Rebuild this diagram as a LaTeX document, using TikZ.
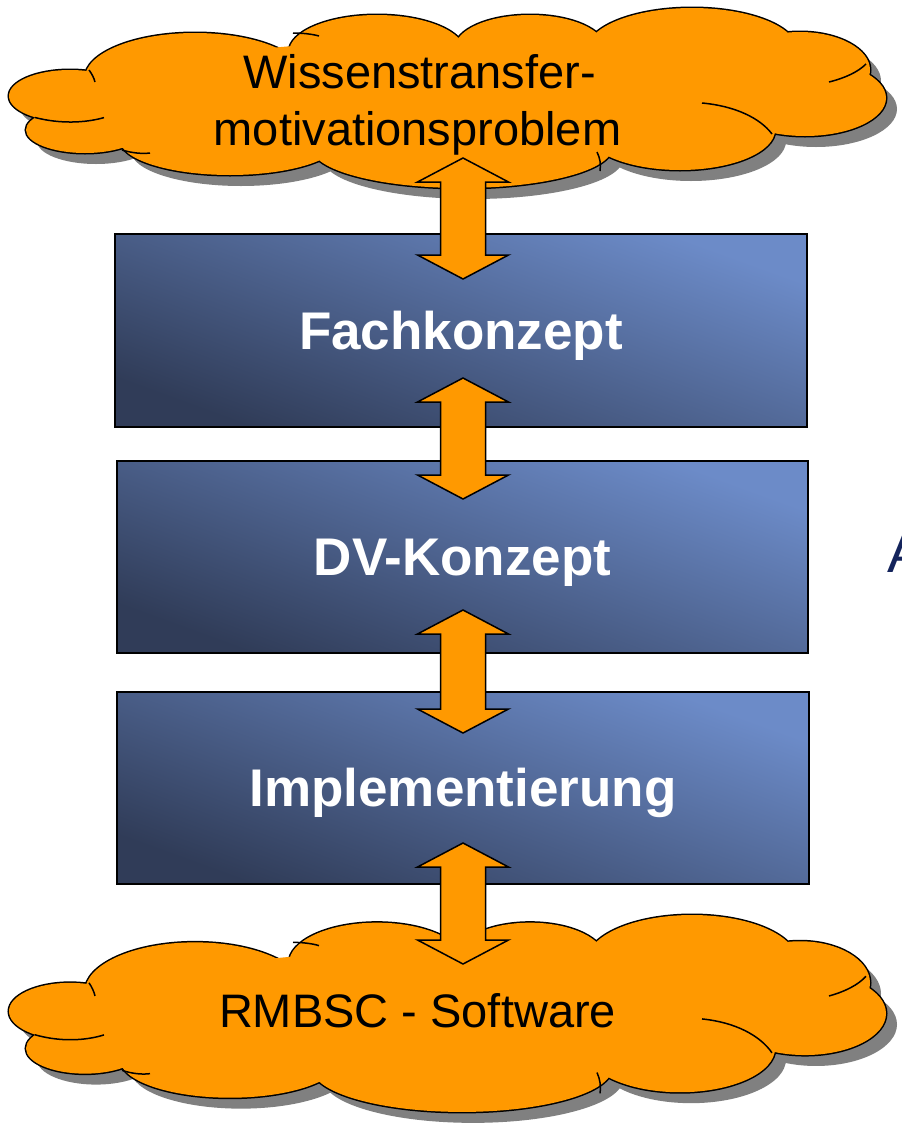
\documentclass[tikz,border=0pt]{standalone}
\usepackage{fontspec}
\setmainfont{Liberation Sans}
\usetikzlibrary{calc}
\definecolor{corange}{RGB}{255,153,0}
\definecolor{cshadow}{RGB}{128,128,128}
\definecolor{boxlight}{RGB}{108,139,200}
\definecolor{boxdark}{RGB}{48,60,88}
\definecolor{navy}{RGB}{20,36,92}

\newcommand\cloudlobes{%
 (70,96) ellipse [x radius=61, y radius=26]
 (85,130) ellipse [x radius=59, y radius=23]
 (230,140) ellipse [x radius=110, y radius=35]
 (462,148) ellipse [x radius=150, y radius=40]
 (680,130) ellipse [x radius=95, y radius=40]
 (805,98) ellipse [x radius=81, y radius=38]
 (800,70) ellipse [x radius=70, y radius=38]
 (692,50) ellipse [x radius=105, y radius=42]
 (530,48) ellipse [x radius=75, y radius=33]
 (377,52) ellipse [x radius=88, y radius=37]
 (195,78) ellipse [x radius=110, y radius=45]}
\newcommand\cloudfill{\cloudlobes (450,100) ellipse [x radius=360, y radius=60]}
\newcommand\cloudcreases{%
 (35,117.5) .. controls (60,124) and (85,123) .. (104,117.6)
 (89,70) .. controls (92,74) and (94,78) .. (95,82)
 (122,150) .. controls (132,153) and (142,154) .. (150,153)
 (600,171) .. controls (601,164) and (600,158) .. (597,152)
 (702,103) .. controls (735,106) and (760,118) .. (772,134)
 (829,82) .. controls (845,78) and (858,72) .. (866,64)
 (293,33) .. controls (302,33) and (312,34) .. (319,36)}

\tikzset{
 box/.style={draw=black, line width=1.5pt, inner sep=0pt,
  minimum width=692pt, minimum height=193pt,
  top color=boxlight, bottom color=boxdark, shading angle=-20,
  text=white, font=\fontsize{53}{60}\selectfont\bfseries,
  text height=37.9pt, text depth=0pt},
 blockarr/.style={fill=corange, draw=black, line width=1.5pt, line join=miter},
 cloudtext/.style={inner sep=0pt, text=black, font=\fontsize{47}{56}\selectfont},
 cloudline/.style={draw=black, line width=3pt},
 creaseline/.style={draw=black, line width=1.5pt}
}
\newcommand\dblarrow[2]{%
 \draw[blockarr] let \p1=(#1), \p2=(#2) in
 (\x1,\y1) -- (\x1+45.5pt,\y1-24pt) -- (\x1+22.5pt,\y1-24pt) -- (\x1+22.5pt,\y2+24pt)
 -- (\x1+45.5pt,\y2+24pt) -- (\x1,\y2) -- (\x1-45.5pt,\y2+24pt) -- (\x1-22.5pt,\y2+24pt)
 -- (\x1-22.5pt,\y1-24pt) -- (\x1-45.5pt,\y1-24pt) -- cycle;}

\begin{document}
\begin{tikzpicture}[x=1pt,y=-1pt]
\fill[white] (0,0) rectangle (902,1125);
\clip (0,0) rectangle (902,1125);

% top cloud
\begin{scope}[shift={(11,11)}]
 \fill[cshadow] \cloudfill;
\end{scope}
\path[cloudline] \cloudlobes;
\fill[corange] \cloudfill;
\path[creaseline] \cloudcreases;

% bottom cloud
\begin{scope}[yshift=-906.25pt, yscale=1.094]
 \begin{scope}[shift={(11,10)}]
  \fill[cshadow] \cloudfill;
 \end{scope}
 \path[cloudline] \cloudlobes;
 \fill[corange] \cloudfill;
 \path[creaseline] \cloudcreases;
\end{scope}

% boxes
\node[box] (fach) at (461,330.5) {Fachkonzept};
\node[box, minimum height=192pt, minimum width=691pt] (dv) at (462.5,557) {DV-Konzept};
\node[box, minimum height=192pt] (impl) at (463,788) {Implementierung};

% arrow end points
\coordinate (a1t) at (463,158);
\coordinate (a1b) at (463,279);
\coordinate (a2t) at (463,378);
\coordinate (a2b) at (463,499);
\coordinate (a3t) at (463,610);
\coordinate (a3b) at (463,733);
\coordinate (a4t) at (463,843);
\coordinate (a4b) at (463,964);
\dblarrow{a1t}{a1b}
\dblarrow{a2t}{a2b}
\dblarrow{a3t}{a3b}
\dblarrow{a4t}{a4b}

% cloud texts
\node[cloudtext, anchor=base] (wiss1) at (419.5,88) {Wissenstransfer-};
\node[cloudtext, anchor=base] (wiss2) at (417.5,145) {motivationsproblem};
\node[cloudtext, anchor=base] (rmbsc) at (417.5,1027) {RMBSC - Software};

% cut-off letter at the right edge
\node[anchor=base west, inner sep=0pt, text=navy, font=\fontsize{56}{60}\selectfont] (acut) at (887,572) {A};
\end{tikzpicture}
\end{document}
